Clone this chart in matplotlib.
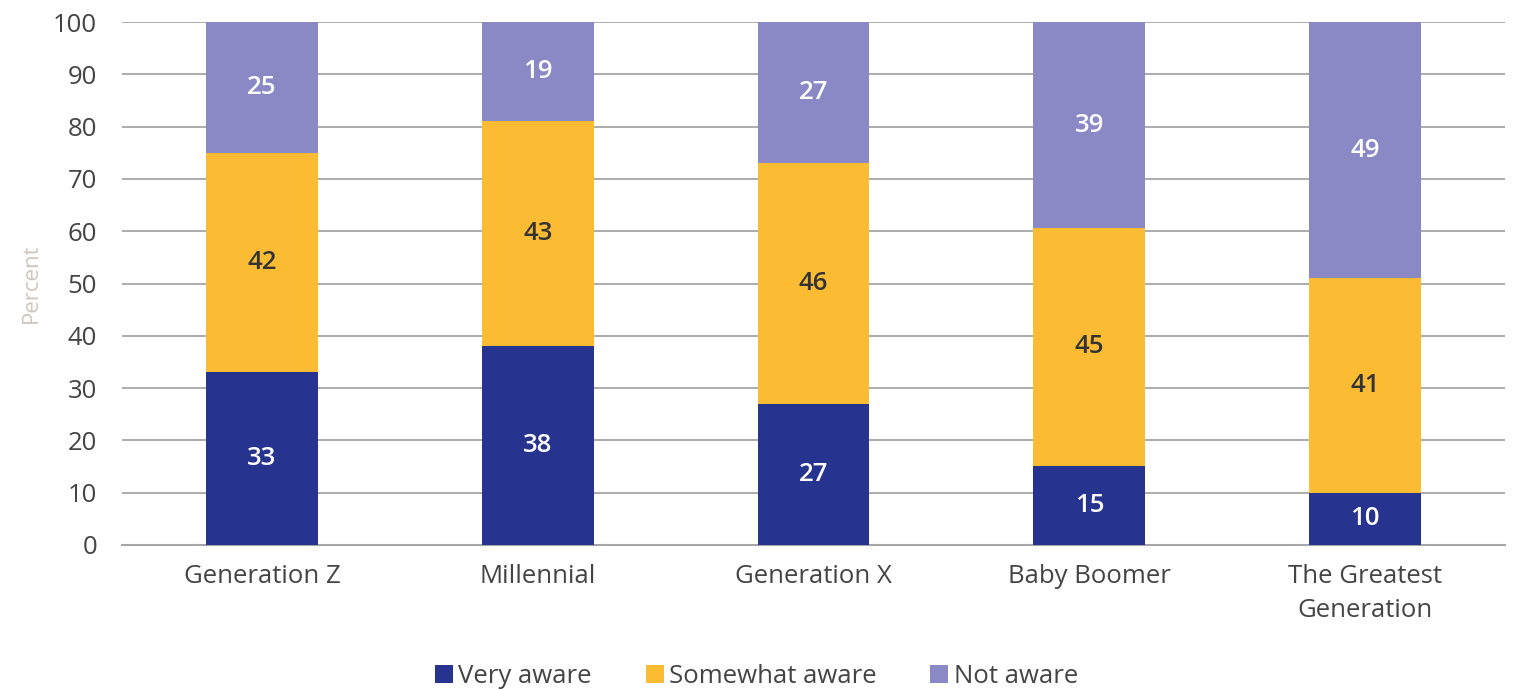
import numpy as np
import matplotlib
matplotlib.use("Agg")
import matplotlib.pyplot as plt

plt.rcParams['font.family'] = ['Open Sans', 'DejaVu Sans']

generations = ['Generation Z', 'Millennial', 'Generation X', 'Baby Boomer', 'The Greatest\nGeneration']
very_aware = [33, 38, 27, 15, 10]
somewhat_aware = [42, 43, 46, 45, 41]
not_aware = [25, 19, 27, 39, 49]

colors = ['#26338f', '#fbbc34', '#8a89c5']
series = [('Very aware', very_aware), ('Somewhat aware', somewhat_aware), ('Not aware', not_aware)]
label_colors = ['white', '#333333', 'white']

raw = np.array([very_aware, somewhat_aware, not_aware], dtype=float)
share = raw / raw.sum(axis=0) * 100  # bars are drawn as 100% stacks

fig = plt.figure(figsize=(15.22, 6.89), dpi=100)
ax = fig.add_axes([0.0802, 0.209, 0.9086, 0.759])

x = np.arange(len(generations))
bottom = np.zeros(len(generations))
for i, (name, vals) in enumerate(series):
    bars = ax.bar(x, share[i], 0.405, bottom=bottom, color=colors[i], label=name, zorder=3)
    for j, b in enumerate(bars):
        ax.text(b.get_x() + b.get_width() / 2, bottom[j] + share[i][j] / 2, str(vals[j]),
                ha='center', va='center', color=label_colors[i], fontsize=18.5, fontweight='semibold', zorder=4)
    bottom += share[i]

ax.set_xlim(-0.507, 4.507)
ax.set_ylim(0, 100)
ax.set_yticks(range(0, 101, 10))
ax.set_xticks(x)
ax.set_xticklabels(generations, linespacing=1.45)
ax.tick_params(axis='both', length=0, labelsize=18.5, labelcolor='#444444')
ax.tick_params(axis='y', pad=18)
ax.tick_params(axis='x', pad=14)
ax.grid(axis='y', color='#a6a6a6', linewidth=1.3, zorder=0)
for s in ['top', 'right', 'left']:
    ax.spines[s].set_visible(False)
ax.spines['bottom'].set_color('#a6a6a6')
ax.spines['bottom'].set_linewidth(1.5)
ax.set_ylabel('Percent', fontsize=16, color='#cfc6bd', labelpad=8)

handles, labels = ax.get_legend_handles_labels()
fig.legend(handles, labels, loc='center', bbox_to_anchor=(0.497, 0.018), ncol=3, frameon=False,
           fontsize=18.5, handlelength=0.7, handleheight=0.7, handletextpad=0.2,
           columnspacing=2.1, labelcolor='#444444', borderaxespad=0, borderpad=0)

plt.savefig('out.png', dpi=100)
